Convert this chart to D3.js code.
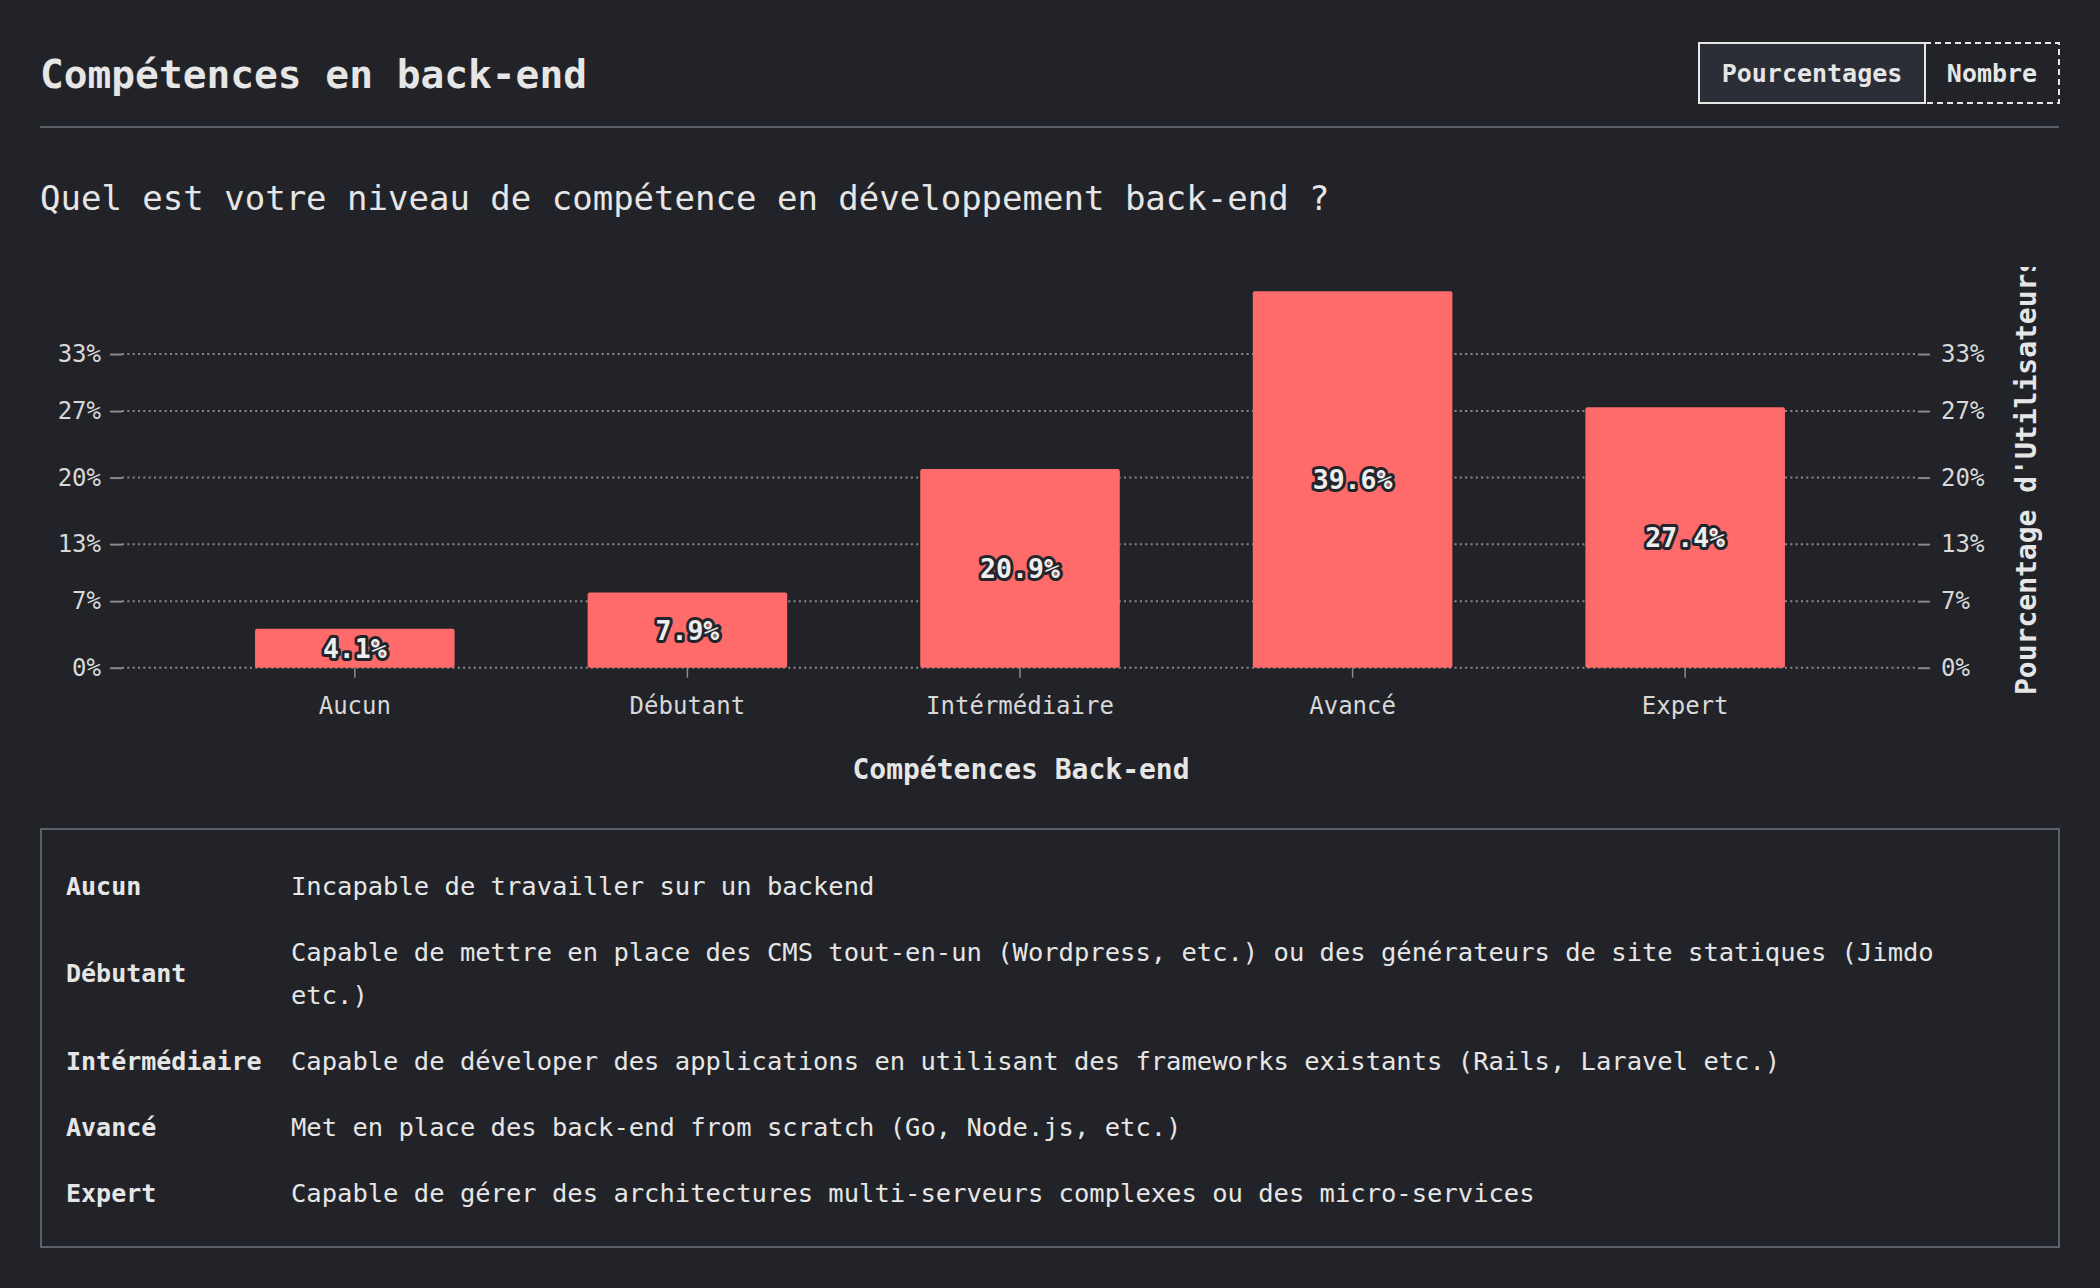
<!DOCTYPE html>
<html>
<head>
<meta charset="utf-8">
<script src="https://cdn.jsdelivr.net/npm/d3@7"></script>
<style>
  html, body { margin:0; padding:0; background:#222328; }
  svg { display:block; }
  text { font-family: "DejaVu Sans Mono", "Liberation Mono", monospace; }
</style>
</head>
<body>
<svg id="chart" width="2100" height="1288"></svg>
<script>
const title = "Compétences en back-end";
const question = "Quel est votre niveau de compétence en développement back-end ?";
const modes = ["Pourcentages", "Nombre"];
const categories = ["Aucun", "Débutant", "Intérmédiaire", "Avancé", "Expert"];
const percentages = [4.1, 7.9, 20.9, 39.6, 27.4];
const yTicks = [0, 7, 13, 20, 27, 33];
const xAxisTitle = "Compétences Back-end";
const yAxisTitle = "Pourcentage d'Utilisateurs";
const descriptions = [
  "Incapable de travailler sur un backend",
  "Capable de mettre en place des CMS tout-en-un (Wordpress, etc.) ou des générateurs de site statiques (Jimdo etc.)",
  "Capable de déveloper des applications en utilisant des frameworks existants (Rails, Laravel etc.)",
  "Met en place des back-end from scratch (Go, Node.js, etc.)",
  "Capable de gérer des architectures multi-serveurs complexes ou des micro-services"
];

const TEXT = "#e6e6e6";
const BAR = "#ff6a6a";
const GRID = "#8a8a8a";
const svg = d3.select("#chart");

// Header
svg.append("text").attr("x", 40).attr("y", 88)
  .attr("font-size", 39.5).attr("font-weight", 700).attr("fill", TEXT).text(title);

const btnX = [1699, 1925, 2059];
modes.forEach((m, i) => {
  svg.append("rect").attr("x", btnX[i]).attr("y", 43)
    .attr("width", btnX[i+1] - btnX[i]).attr("height", 60)
    .attr("fill", i === 0 ? "#2b2e37" : "none")
    .attr("stroke", TEXT).attr("stroke-width", 2)
    .attr("stroke-dasharray", i === 0 ? null : "6,4");
  svg.append("text").attr("x", (btnX[i] + btnX[i+1]) / 2).attr("y", 82)
    .attr("text-anchor", "middle").attr("font-size", 25).attr("font-weight", 700)
    .attr("fill", TEXT).text(m);
});
svg.append("rect").attr("x", btnX[0]).attr("y", 43).attr("width", btnX[1]-btnX[0]).attr("height", 60)
  .attr("fill", "none").attr("stroke", TEXT).attr("stroke-width", 2);

svg.append("line").attr("x1", 40).attr("x2", 2059).attr("y1", 127).attr("y2", 127)
  .attr("stroke", "#5b5f67").attr("stroke-width", 2);

svg.append("text").attr("x", 40).attr("y", 210)
  .attr("font-size", 34).attr("fill", TEXT).text(question);

// Scales
const x = d3.scaleBand().domain(categories).range([122, 1918]).paddingInner(0.4).paddingOuter(0.4);
const y = d3.scaleLinear().domain([0, 39.6]).range([667.7, 291.3]);

// Gridlines
svg.append("g").selectAll("line").data(yTicks).join("line")
  .attr("x1", 122).attr("x2", 1918)
  .attr("y1", d => y(d)).attr("y2", d => y(d))
  .attr("stroke", GRID).attr("stroke-width", 2).attr("stroke-dasharray", "2,3.33");

// Axes
const fmt = d => d + "%";
const leftAxis = svg.append("g").attr("transform", "translate(122,0)")
  .call(d3.axisLeft(y).tickValues(yTicks).tickFormat(fmt).tickSize(12).tickPadding(9));
const rightAxis = svg.append("g").attr("transform", "translate(1918,0)")
  .call(d3.axisRight(y).tickValues(yTicks).tickFormat(fmt).tickSize(12).tickPadding(11));
[leftAxis, rightAxis].forEach(a => {
  a.select(".domain").remove();
  a.selectAll(".tick line").attr("stroke", GRID).attr("stroke-width", 2);
  a.selectAll(".tick text").attr("fill", "#d8d8d8").attr("font-size", 24)
    .attr("font-family", "DejaVu Sans Mono, monospace");
});

// Bars
svg.append("g").selectAll("rect").data(categories).join("rect")
  .attr("x", d => x(d)).attr("width", x.bandwidth())
  .attr("y", (d, i) => y(percentages[i]))
  .attr("height", (d, i) => y(0) - y(percentages[i]))
  .attr("rx", 2).attr("fill", BAR);

// X axis
const bottomAxis = svg.append("g").attr("transform", `translate(0,${y(0)})`)
  .call(d3.axisBottom(x).tickSize(10).tickPadding(19));
bottomAxis.select(".domain").remove();
bottomAxis.selectAll(".tick line").attr("stroke", GRID).attr("stroke-width", 1.5);
bottomAxis.selectAll(".tick text").attr("fill", "#d8d8d8").attr("font-size", 24)
  .attr("font-family", "DejaVu Sans Mono, monospace");

// Bar labels
svg.append("g").selectAll("text").data(categories).join("text")
  .attr("x", d => x(d) + x.bandwidth() / 2)
  .attr("y", (d, i) => (y(percentages[i]) + y(0)) / 2)
  .attr("dy", "0.36em")
  .attr("text-anchor", "middle").attr("font-size", 26.5).attr("font-weight", 700)
  .attr("fill", "#eeeeee").attr("stroke", "#24252b").attr("stroke-width", 6)
  .attr("stroke-linejoin", "round").attr("paint-order", "stroke")
  .text((d, i) => percentages[i].toFixed(1) + "%");

// Axis titles
svg.append("text").attr("x", 1021).attr("y", 779).attr("text-anchor", "middle")
  .attr("font-size", 28).attr("font-weight", 700).attr("fill", TEXT).text(xAxisTitle);

svg.append("clipPath").attr("id", "rclip").append("rect")
  .attr("x", 1980).attr("y", 267).attr("width", 120).attr("height", 600);
svg.append("g").attr("clip-path", "url(#rclip)")
  .append("text").attr("transform", "translate(2036,695) rotate(-90)")
  .attr("font-size", 28).attr("font-weight", 700).attr("fill", TEXT).text(yAxisTitle);

// Definitions table
svg.append("rect").attr("x", 41).attr("y", 829).attr("width", 2018).attr("height", 418)
  .attr("fill", "none").attr("stroke", "#5b5f67").attr("stroke-width", 2);

const DESC_FS = 25.5;
const measurer = svg.append("text").attr("font-size", DESC_FS).attr("visibility", "hidden");
function wrap(str, maxW) {
  const words = str.split(" ");
  const lines = [];
  let cur = "";
  words.forEach(w => {
    const test = cur ? cur + " " + w : w;
    measurer.text(test);
    if (measurer.node().getComputedTextLength() > maxW && cur) {
      lines.push(cur); cur = w;
    } else cur = test;
  });
  if (cur) lines.push(cur);
  return lines;
}
const LH = 43;
let rowTop = 853;
categories.forEach((c, i) => {
  const lines = wrap(descriptions[i], 1700);
  const h = lines.length * LH + 23;
  const mid = rowTop + h / 2;
  svg.append("text").attr("x", 66).attr("y", mid).attr("dy", "0.35em")
    .attr("font-size", 25).attr("font-weight", 700).attr("fill", TEXT).text(c);
  lines.forEach((ln, j) => {
    svg.append("text").attr("x", 291).attr("y", rowTop + 11.5 + LH / 2 + j * LH).attr("dy", "0.35em")
      .attr("font-size", DESC_FS).attr("fill", TEXT).text(ln);
  });
  rowTop += h;
});
measurer.remove();
</script>
</body>
</html>
